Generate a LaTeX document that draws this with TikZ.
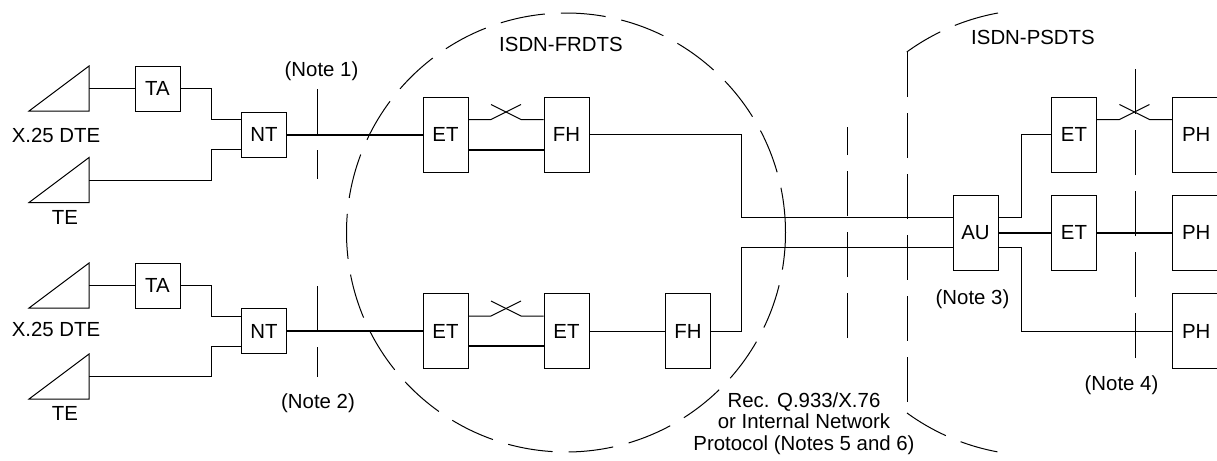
\documentclass[tikz,border=0pt]{standalone}
\usepackage{fontspec}
\setmainfont{Liberation Sans}
\usetikzlibrary{calc}

% crossed connection between two boxes (upper line)
\newcommand{\crosslink}[2]{%
 \path ([yshift=7.5pt]#1.east) coordinate (cl) -- ([yshift=7.5pt]#2.west) coordinate (cr) coordinate[midway] (cm);
 \draw (cl) -- ([xshift=-7.5pt]cm) -- ([xshift=7.5pt,yshift=7.5pt]cm);
 \draw ([xshift=-7.5pt,yshift=7.5pt]cm) -- ([xshift=7.5pt]cm) -- (cr);
}

\begin{document}
\begin{tikzpicture}[x=0.5pt,y=-0.5pt,line width=0.5pt,
 font=\fontsize{10.2}{10.8}\selectfont,
 box/.style={draw,inner sep=0pt,minimum width=22.5pt,minimum height=37.5pt},
 phbox/.style={box,minimum width=24pt},
 sbox/.style={draw,inner sep=0pt,minimum size=22.5pt},
 heavy/.style={line width=1pt},
 dashline/.style={dash pattern=on 22.5pt off 8pt}]
\useasboundingbox (0,0) rectangle (1217,461);

% terminals
\foreach \name/\y in {dteA/88.5,teA/180,dteB/285.5,teB/376.5}{
 \draw (29,\y+22.5) -- (89,\y-22.5) -- (89,\y+22.5) -- cycle;
 \coordinate (\name) at (89,\y);
}
\node (dteAlbl) at (56,135) {X.25 DTE};
\node (teAlbl) at (65,217) {TE};
\node (dteBlbl) at (56,329) {X.25 DTE};
\node (teBlbl) at (65,413) {TE};

% boxes
\node[sbox] (taA) at (157.5,88.5) {TA};
\node[sbox] (ntA) at (264,134.5) {NT};
\node[box] (etA) at (445.5,134.5) {ET};
\node[box] (fhA) at (566.5,134.5) {FH};
\node[sbox] (taB) at (157.5,285.5) {TA};
\node[sbox] (ntB) at (264,331) {NT};
\node[box] (etB) at (445.5,331) {ET};
\node[box] (etC) at (566.5,331) {ET};
\node[box] (fhB) at (688,331) {FH};
\node[box] (au) at (975.5,232.5) {AU};
\node[box] (etD) at (1074,134.5) {ET};
\node[box] (etE) at (1074,232.5) {ET};
\node[phbox] (phA) at (1196.3,134.5) {PH};
\node[phbox] (phB) at (1196.3,232.5) {PH};
\node[phbox] (phC) at (1196.3,331) {PH};

% access lines
\draw (dteA) -- (taA);
\draw (taA.east) -- (211,88.5) |- ([yshift=7.5pt]ntA.west);
\draw (teA) -- (211,180) |- ([yshift=-7.5pt]ntA.west);
\draw (dteB) -- (taB);
\draw (taB.east) -- (211,285.5) |- ([yshift=7.5pt]ntB.west);
\draw (teB) -- (211,376.5) |- ([yshift=-7.5pt]ntB.west);
\draw[heavy] (ntA) -- (etA);
\draw[heavy] (ntB) -- (etB);

% inside the networks
\crosslink{etA}{fhA}
\draw[heavy] ([yshift=-7.5pt]etA.east) -- ([yshift=-7.5pt]fhA.west);
\crosslink{etB}{etC}
\draw[heavy] ([yshift=-7.5pt]etB.east) -- ([yshift=-7.5pt]etC.west);
\draw (etC) -- (fhB);
\draw (fhA) -- (741,134.5) |- ([yshift=7.5pt]au.west);
\draw (fhB) -- (741,331) |- ([yshift=-7.5pt]au.west);
\draw ([yshift=7.5pt]au.east) -- (1021.5,217.5) |- (etD);
\draw[heavy] (au) -- (etE);
\draw[heavy] (etE) -- (phB);
\draw ([yshift=-7.5pt]au.east) -- (1021.5,247.5) |- (phC);
\crosslink{etD}{phA}

% reference points
\draw[dashline] (317,89) -- (317,179);
\draw[dashline] (317,286) -- (317,377);
\draw[dashline] (847,338) -- (847,127);
\draw[dashline] (1135,358) -- (1135,67);
\node (note1) at (321.5,71.5) {(Note 1)};
\node (note2) at (318,403) {(Note 2)};
\node (note3) at (972.5,299) {(Note 3)};
\node (note4) at (1121.5,385) {(Note 4)};

% network boundaries
\draw[dashline] (566,232.5) circle[radius=109.75pt];
\draw[dashline] (998,13) arc[start angle=100.3,end angle=126,radius=111.5pt];
\draw[dashline] (907,52) -- (907,413);
\draw[dashline] (907,413) arc[start angle=234,end angle=259.5,radius=111.5pt];
\node (frdts) at (561,44) {ISDN-FRDTS};
\node (psdts) at (1033,37) {ISDN-PSDTS};
\node[align=center] (proto) at (804,423.5) {Rec. Q.933/X.76\\or Internal Network\\Protocol (Notes 5 and 6)};
\end{tikzpicture}
\end{document}
